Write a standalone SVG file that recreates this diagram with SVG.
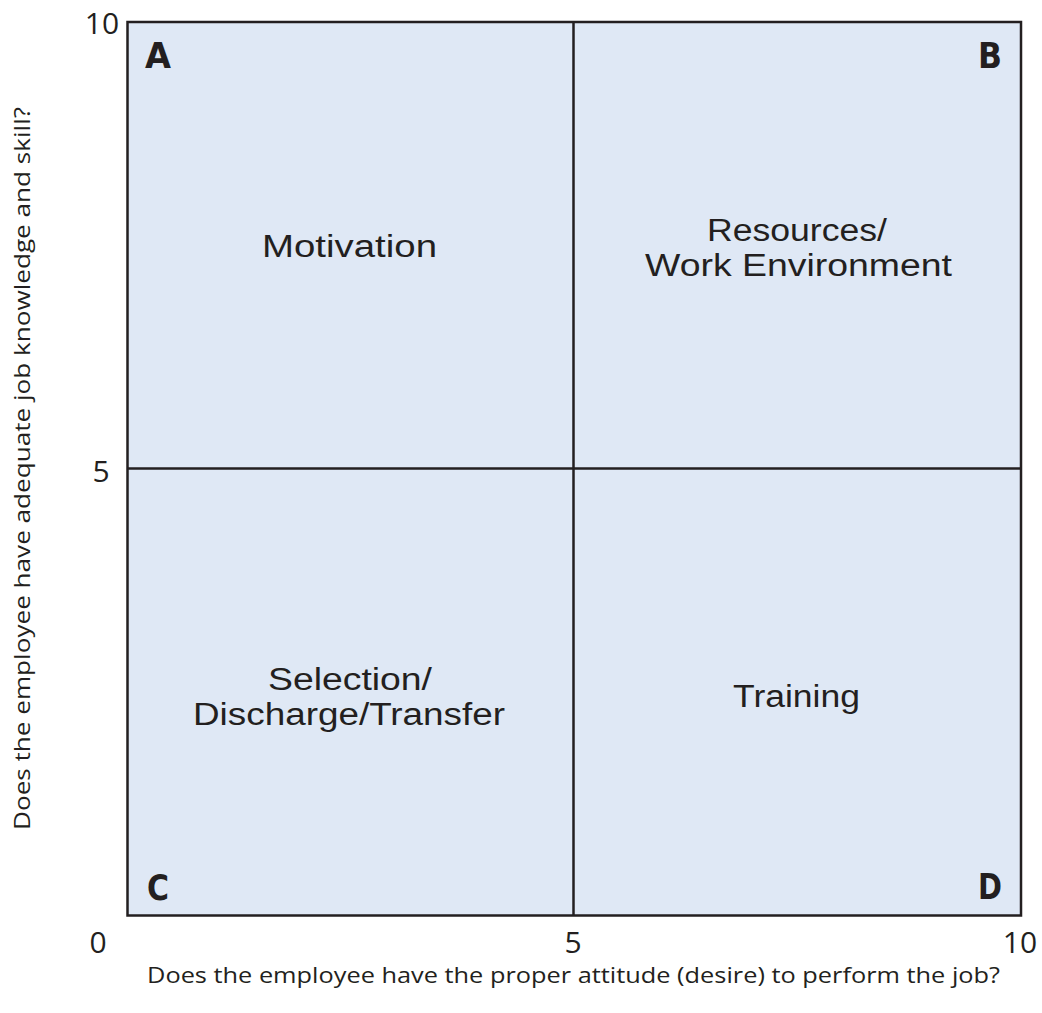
<svg xmlns="http://www.w3.org/2000/svg" width="1042" height="1013" viewBox="0 0 1042 1013">
<style>
.q{font-family:"Liberation Sans",Arial,sans-serif;font-size:31px;fill:#231f20}
.t{font-family:"Open Sans","Liberation Sans",Arial,sans-serif;font-size:30px;fill:#231f20;text-anchor:middle}
.ax{font-family:"Open Sans","Liberation Sans",Arial,sans-serif;font-size:22px;fill:#231f20}
.L{font-family:"DejaVu Sans",sans-serif;font-weight:900;font-size:36px;fill:#231f20}
.ln{stroke:#231f20;stroke-width:2.5;fill:none}
</style>
<rect width="1042" height="1013" fill="#ffffff"/>
<g id="quadrant-A"><rect x="127.5" y="22" width="446" height="446.5" fill="#dfe8f5"/><text class="L" x="145" y="68" textLength="26" lengthAdjust="spacingAndGlyphs">A</text><text class="q" x="262" y="257" textLength="175" lengthAdjust="spacingAndGlyphs">Motivation</text></g>
<g id="quadrant-B"><rect x="573.5" y="22" width="447.5" height="446.5" fill="#dfe8f5"/><text class="L" x="978" y="68" textLength="24" lengthAdjust="spacingAndGlyphs">B</text><text class="q" x="707" y="241" textLength="180" lengthAdjust="spacingAndGlyphs">Resources/</text><text class="q" x="645" y="276" textLength="307" lengthAdjust="spacingAndGlyphs">Work Environment</text></g>
<g id="quadrant-C"><rect x="127.5" y="468.5" width="446" height="447" fill="#dfe8f5"/><text class="L" x="147" y="900" textLength="22" lengthAdjust="spacingAndGlyphs">C</text><text class="q" x="268" y="690" textLength="164" lengthAdjust="spacingAndGlyphs">Selection/</text><text class="q" x="193" y="725" textLength="312" lengthAdjust="spacingAndGlyphs">Discharge/Transfer</text></g>
<g id="quadrant-D"><rect x="573.5" y="468.5" width="447.5" height="447" fill="#dfe8f5"/><text class="L" x="978" y="899" textLength="24" lengthAdjust="spacingAndGlyphs">D</text><text class="q" x="733" y="707" textLength="127" lengthAdjust="spacingAndGlyphs">Training</text></g>
<g id="connectors">
<rect class="ln" x="127.5" y="22" width="893.5" height="893.5"/>
<line class="ln" x1="573.5" y1="22" x2="573.5" y2="915.5"/>
<line class="ln" x1="127.5" y1="468.5" x2="1021" y2="468.5"/>
</g>
<g id="ticks">
<text class="t" x="102" y="34">10</text>
<text class="t" x="101" y="482">5</text>
<text class="t" x="98" y="953">0</text>
<text class="t" x="573" y="953">5</text>
<text class="t" x="1020" y="953">10</text>
</g>
<g id="axis-labels">
<text class="ax" x="147" y="983" textLength="853" lengthAdjust="spacingAndGlyphs">Does the employee have the proper attitude (desire) to perform the job?</text>
<text class="ax" transform="translate(30,830) rotate(-90)" textLength="723" lengthAdjust="spacingAndGlyphs">Does the employee have adequate job knowledge and skill?</text>
</g>
</svg>
